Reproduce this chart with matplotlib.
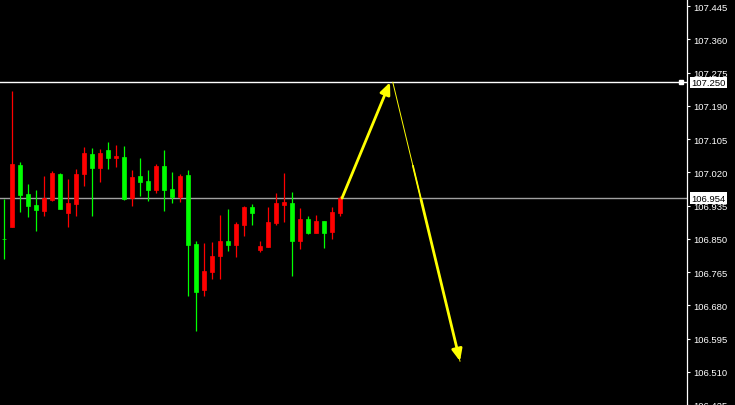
import numpy as np
import matplotlib.pyplot as plt

# OHLC (red = up candle, green = down candle)
opens = [106.850, 106.880, 107.039, 106.964, 106.936, 106.921, 106.949, 107.016, 106.916, 106.939,
         107.016, 107.067, 107.031, 107.077, 107.056, 107.059, 106.954, 107.010, 106.998, 106.975,
         107.036, 106.977, 106.957, 107.013, 106.837, 106.719, 106.765, 106.806, 106.844, 106.834,
         106.885, 106.931, 106.821, 106.829, 106.890, 106.936, 106.941, 106.844, 106.901, 106.865,
         106.895, 106.867, 106.916]
highs = [106.952, 107.228, 107.046, 106.990, 106.975, 107.010, 107.023, 107.018, 107.003, 107.028,
         107.085, 107.082, 107.079, 107.097, 107.090, 107.087, 107.026, 107.056, 107.026, 107.041,
         107.077, 107.021, 107.016, 107.026, 106.844, 106.839, 106.842, 106.911, 106.926, 106.893,
         106.934, 106.939, 106.844, 106.931, 106.967, 107.018, 106.970, 106.929, 106.908, 106.911,
         106.895, 106.931, 106.959]
lows = [106.798, 106.880, 106.918, 106.906, 106.870, 106.908, 106.947, 106.926, 106.880, 106.908,
        106.985, 106.908, 106.995, 107.028, 107.033, 106.949, 106.934, 106.959, 106.947, 106.967,
        106.921, 106.941, 106.944, 106.704, 106.614, 106.704, 106.747, 106.747, 106.819, 106.803,
        106.857, 106.885, 106.816, 106.829, 106.885, 106.893, 106.755, 106.824, 106.862, 106.865,
        106.826, 106.849, 106.908]
closes = [106.849, 107.041, 106.962, 106.934, 106.924, 106.954, 107.018, 106.926, 106.941, 107.016,
          107.069, 107.031, 107.069, 107.056, 107.062, 106.952, 107.008, 106.995, 106.975, 107.036,
          106.975, 106.957, 107.010, 106.834, 106.714, 106.768, 106.806, 106.844, 106.834, 106.888,
          106.931, 106.916, 106.832, 106.893, 106.941, 106.944, 106.844, 106.901, 106.865, 106.895,
          106.865, 106.918, 106.954]

# price axis ticks
yticks = [106.425, 106.510, 106.595, 106.680, 106.765, 106.850, 106.935,
          107.020, 107.105, 107.190, 107.275, 107.360, 107.445]

# horizontal levels and their labels
level_prices = [107.250, 106.954]
level_colors = ["white", "#a0a0a0"]

# forecast arrows: (bar position, price) of each turning point
arrow_x = [42.25, 48.25, 48.6, 57.0]
arrow_y = [106.954, 107.250, 107.250, 106.537]

x = np.arange(len(opens))

fig = plt.figure(figsize=(7.35, 4.06), dpi=100, facecolor="black")
ax = fig.add_axes([0, 0, 687 / 735, 1], facecolor="black")

for i in x:
    o, h, l, c = opens[i], highs[i], lows[i], closes[i]
    col = "#ff0000" if c >= o else "#00ff00"
    ax.vlines(i, l, h, color=col, lw=0.9, zorder=2)
    ax.bar(i, abs(c - o), bottom=min(o, c), width=0.62, color=col,
           edgecolor=col, linewidth=0.5, zorder=3)

for lv, lc in zip(level_prices, level_colors):
    ax.axhline(lv, color=lc, lw=1.0, zorder=1)
    ax.annotate(f"{lv:.3f}", xy=(1, lv), xycoords=("axes fraction", "data"),
                xytext=(3.2, 0), textcoords="offset points", ha="left", va="center",
                fontsize=6.8, family="Liberation Sans", color="black",
                bbox=dict(boxstyle="square,pad=0.12", fc="white", ec="none"),
                annotation_clip=False, zorder=10)

# small marker on the axis for the upper level
ax.plot([84.6], [level_prices[0]], marker="s", ms=3.5, color="white",
        clip_on=False, zorder=5)

# up arrow
ax.annotate("", xy=(arrow_x[1], arrow_y[1]), xytext=(arrow_x[0], arrow_y[0]),
            arrowprops=dict(arrowstyle="-|>,head_length=0.5,head_width=0.22",
                            mutation_scale=14, color="#ffff00", lw=2.0,
                            shrinkA=0, shrinkB=0), zorder=6)
# down arrow: thin at the start, thicker further down
dx = arrow_x[3] - arrow_x[2]
dy = arrow_y[3] - arrow_y[2]
ax.plot(arrow_x[2:], arrow_y[2:], color="#ffff00", lw=0.7, zorder=6)
ax.plot([arrow_x[2] + 0.3 * dx, arrow_x[2] + 0.42 * dx],
        [arrow_y[2] + 0.3 * dy, arrow_y[2] + 0.42 * dy],
        color="#ffff00", lw=1.3, zorder=6)
ax.annotate("", xy=(arrow_x[3], arrow_y[3]),
            xytext=(arrow_x[2] + 0.42 * dx, arrow_y[2] + 0.42 * dy),
            arrowprops=dict(arrowstyle="-|>,head_length=0.5,head_width=0.22",
                            mutation_scale=14, color="#ffff00", lw=2.0,
                            shrinkA=0, shrinkB=0), zorder=6)

ax.set_xlim(-0.5, 85.375)
ax.set_ylim(106.425, 107.463)
ax.set_xticks([])
ax.set_yticks(yticks)
ax.set_yticklabels([f"{t:.3f}" for t in yticks])
ax.yaxis.tick_right()
ax.tick_params(axis="y", colors="white", direction="out", length=2.2,
               width=0.8, pad=2.2, labelsize=6.8)
for lab in ax.get_yticklabels():
    lab.set_family("Liberation Sans")
for s in ["left", "top", "bottom"]:
    ax.spines[s].set_visible(False)
ax.spines["right"].set_color("white")
ax.spines["right"].set_linewidth(0.9)

fig.savefig("out.png", dpi=100, facecolor="black")
